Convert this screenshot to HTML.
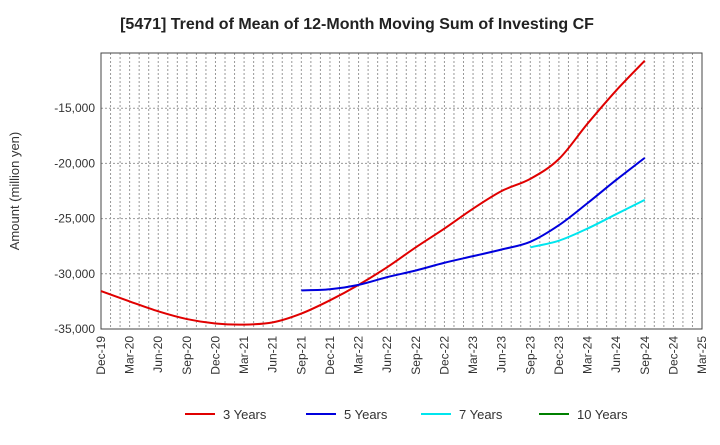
<!DOCTYPE html>
<html><head><meta charset="utf-8"><style>
body{margin:0;background:#fff;font-family:"Liberation Sans",sans-serif;}
svg text{font-family:"Liberation Sans",sans-serif;}
</style></head><body>
<svg id="c" width="720" height="440"></svg>
<script>
const categories=["Dec-19","Mar-20","Jun-20","Sep-20","Dec-20","Mar-21","Jun-21","Sep-21","Dec-21","Mar-22","Jun-22","Sep-22","Dec-22","Mar-23","Jun-23","Sep-23","Dec-23","Mar-24","Jun-24","Sep-24","Dec-24","Mar-25"];
const yTicks=[-15000,-20000,-25000,-30000,-35000];
const s3=[-31560,-32500,-33400,-34100,-34500,-34600,-34400,-33600,-32400,-31000,-29400,-27600,-25900,-24100,-22500,-21400,-19600,-16400,-13400,-10700];
const s5=[null,null,null,null,null,null,null,-31500,-31400,-31000,-30300,-29700,-29000,-28400,-27800,-27100,-25600,-23600,-21500,-19500];
const s7=[null,null,null,null,null,null,null,null,null,null,null,null,null,null,null,-27600,-27000,-25900,-24600,-23300];
const s10=[];
const seriesNames=["3 Years","5 Years","7 Years","10 Years"];
const colors=["#e00000","#0000dd","#00e5ee","#008000"];
const L=101,R=702,T=53,B=329,yMin=-35000,yMax=-10000;
const svg=document.getElementById('c');const NS="http://www.w3.org/2000/svg";
function X(i){return L+(R-L)*i/(categories.length-1);}
function Y(v){return B-(v-yMin)/(yMax-yMin)*(B-T);}
function mk(t,a,p){const e=document.createElementNS(NS,t);for(const k in a)e.setAttribute(k,a[k]);(p||svg).appendChild(e);return e;}
let e=mk('text',{x:357,y:29,'text-anchor':'middle','font-size':16,'font-weight':'bold',fill:'#222'});e.textContent="[5471]  Trend of Mean of 12-Month Moving Sum of Investing CF";


for(let m=1;m<(categories.length-1)*3;m++){const x=L+(R-L)*m/((categories.length-1)*3);
const g=mk('line',{x1:x,x2:x,y1:T,y2:B,stroke:'#999','stroke-dasharray':'2,2','stroke-width':1});

}
yTicks.forEach(v=>{const y=Y(v);
const g=mk('line',{x1:L,x2:R,y1:y,y2:y,stroke:'#999','stroke-dasharray':'2,2'});


const t=mk('text',{x:L-6,y:y+4,'text-anchor':'end','font-size':12,fill:'#333'});t.textContent=v.toLocaleString('en-US');

});
categories.forEach((c,i)=>{const x=X(i);const t=mk('text',{transform:`translate(${x+4},${B+7}) rotate(-90)`,'text-anchor':'end','font-size':12,fill:'#333'});t.textContent=c;

});
const fr=mk('rect',{x:L,y:T,width:R-L,height:B-T,fill:'none',stroke:'#444','stroke-width':1});


const yt=mk('text',{transform:`translate(19,${(T+B)/2}) rotate(-90)`,'text-anchor':'middle','font-size':13,fill:'#333'});yt.textContent="Amount (million yen)";


function path(arr){const p=[];arr.forEach((v,i)=>{if(v!=null)p.push([X(i),Y(v)]);});if(p.length<2)return"";
let d=`M${p[0][0]},${p[0][1]}`;for(let i=0;i<p.length-1;i++){const p0=p[Math.max(0,i-1)],p1=p[i],p2=p[i+1],p3=p[Math.min(p.length-1,i+2)];
d+=` C${p1[0]+(p2[0]-p0[0])/6},${p1[1]+(p2[1]-p0[1])/6} ${p2[0]-(p3[0]-p1[0])/6},${p2[1]-(p3[1]-p1[1])/6} ${p2[0]},${p2[1]}`;}return d;}
[s3,s5,s7,s10].forEach((s,k)=>{const d=path(s);if(!d)return;const l=mk('path',{d:d,fill:'none',stroke:colors[k],'stroke-width':2});

});
const lx=[185,306,421,539];
seriesNames.forEach((n,k)=>{const g=mk('g',{});


mk('line',{x1:lx[k],x2:lx[k]+30,y1:414,y2:414,stroke:colors[k],'stroke-width':2},g);
const t=mk('text',{x:lx[k]+38,y:419,'font-size':13,fill:'#333'},g);t.textContent=n;});
</script>
</body></html>
